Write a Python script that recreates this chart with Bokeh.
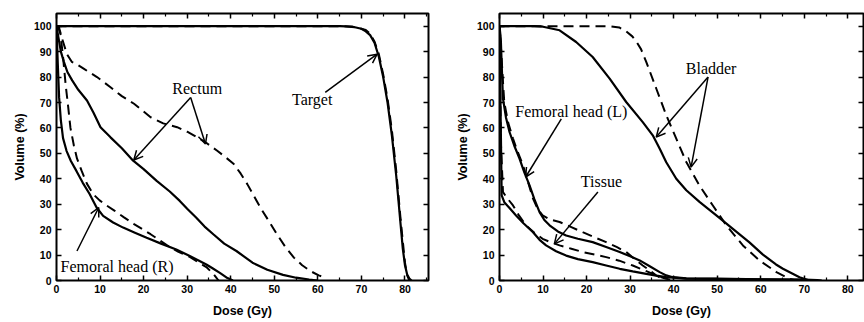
from bokeh.plotting import figure
from bokeh.layouts import row
from bokeh.models import (Range1d, FixedTicker, LinearAxis, Arrow, OpenHead,
                          ColumnDataSource, CustomJSTickFormatter)
from bokeh.core.properties import value
from bokeh.embed import file_html
from bokeh.resources import INLINE

# ---------------- data: left panel ----------------
target_solid_x = [0, 65, 68, 70, 71, 72, 73, 74, 75, 76, 77, 78, 79, 79.5, 80, 80.5, 81, 81.5]
target_solid_y = [100, 100, 99.8, 99, 98, 96.5, 93.5, 88, 80, 70, 57, 41, 22, 12.5, 6, 2.4, 0.8, 0]
target_dash_x = [0, 66, 69, 71, 72, 73, 74, 75, 76, 77, 78, 79, 80, 80.5, 81]
target_dash_y = [100, 100, 99.5, 98.5, 97, 94, 89, 81, 71.5, 59, 43, 24, 7, 2, 0]

rectum_solid_x = [0, 0.5, 1, 1.7, 2.5, 3.6, 5, 7, 8.5, 10.1, 12.4, 15, 17.6, 20, 23, 26, 28.3, 30,
                  32.1, 34, 36, 38.5, 41.3, 45, 48.4, 52, 55, 58, 60]
rectum_solid_y = [100, 95, 90, 86, 82, 78.7, 75, 70.8, 66, 60.3, 56.3, 52, 47.1, 43.8, 39.2, 35, 31.3,
                  28.2, 24.7, 21.2, 18.2, 14.5, 11.6, 7, 4.2, 2.2, 1.1, 0.4, 0]
rectum_dash_x = [0, 0.5, 1.3, 2.4, 3.5, 4.7, 6.5, 9.3, 12.4, 15, 17.8, 21.6, 24.5, 27.7, 30, 32.3,
                 34.5, 36.9, 38.8, 40.7, 42.3, 43.8, 45.3, 46.8, 48.7, 50.6, 52.5, 54.5, 56.4, 58.3,
                 60.2, 62]
rectum_dash_y = [100, 100, 95, 89, 86, 85, 83, 80, 76, 72.5, 69.5, 64.2, 61.8, 60.3, 58.5, 56.3, 54,
                 51, 48.5, 45.8, 42, 37.9, 33.3, 28.7, 23.5, 18.2, 13.3, 9, 6, 3.7, 2, 1]

femr_solid_x = [0, 0.3, 0.6, 1, 1.5, 2.3, 3.3, 4.6, 6, 7.6, 9.2, 10.7, 13, 15.3, 18, 20.7, 24, 27.5,
                30.6, 32.5, 34.4, 36, 37.5, 39, 40.5]
femr_solid_y = [100, 85, 72, 63, 56, 51, 47, 43, 38.5, 34, 28.7, 25.4, 22.8, 20.8, 18.8, 16.8, 14.5,
                12.2, 9.6, 8, 6.3, 4.6, 3, 1.2, 0]
femr_dash_x = [0, 0.5, 0.9, 1.5, 2.1, 2.7, 3.2, 4, 4.7, 5.8, 7, 8.4, 9.9, 11.5, 13.2, 15.5, 17.8,
               21.6, 25.4, 28, 30.6, 32.5, 34.4, 36, 37.2]
femr_dash_y = [100, 99, 97, 88, 77, 68, 60, 53, 48, 43, 38, 34, 31.5, 29.5, 27.6, 24.8, 22.2, 18.2,
               13.8, 11.3, 9.3, 7.2, 5.3, 2.6, 0]

left_labels = ["Rectum", "Target", "Femoral head (R)"]
left_label_x = [32.3, 58.7, 13.9]
left_label_y = [75.5, 71.2, 5.7]
left_arrow_x0 = [30.8, 30.8, 61.7, 4.7]
left_arrow_y0 = [72.0, 72.0, 74.0, 11.6]
left_arrow_x1 = [17.75, 34.2, 73.6, 9.7]
left_arrow_y1 = [47.4, 53.7, 89.0, 28.7]

# ---------------- data: right panel ----------------
bladder_solid_x = [0, 8, 10, 13.8, 17.6, 21.4, 25.3, 29.1, 32.9, 35.2, 36.8, 38.3, 40.6, 42.9, 46,
                   49.8, 53.6, 57.4, 60.5, 63.5, 65.1, 68.9, 71.2]
bladder_solid_y = [100, 100, 99.8, 98.4, 93.8, 87.9, 79.4, 70.2, 62.3, 57.1, 51.8, 46.5, 40, 35.5,
                   30.8, 25.6, 20.3, 15, 10.2, 6.3, 4.6, 1.3, 0]
bladder_dash_x = [0, 25.3, 27.5, 29.1, 30.5, 31.4, 32.5, 33.7, 36, 38.3, 40.6, 42.9, 45.9, 49,
                  52.1, 55.9, 59.7, 63.6, 66.6, 68]
bladder_dash_y = [100, 100, 99.5, 98, 96, 94, 91, 86, 75.5, 65, 55.8, 46.6, 37.4, 29.5, 21.7, 13.8,
                  7.9, 3.3, 0.7, 0]

feml_solid_x = [0, 0.3, 0.5, 0.8, 1.5, 2.3, 3.4, 4.6, 5.7, 6.9, 8, 9.2, 10.3, 11.5, 13.4, 15.3, 18,
                21.4, 24.5, 27.6, 30, 32.2, 34.5, 36.8, 38.3, 39.8, 42.9, 50, 60, 70, 72]
feml_solid_y = [100, 95, 85, 71.5, 64, 58.4, 53, 47.9, 42.5, 37.4, 32, 26.9, 23.8, 21.7, 19.3, 17.7,
                16.4, 15.1, 13.2, 11.2, 9.5, 7.9, 5.6, 3.3, 2, 1.3, 0.8, 0.7, 0.5, 0.3, 0]
feml_dash_x = [0, 0.4, 0.8, 1.1, 2, 3.1, 4.2, 5.4, 6.5, 7.7, 8.8, 9.9, 11.5, 13.8, 16.5, 19.1, 21.8,
               24.5, 27, 29.1, 31, 32.9, 34.5, 36, 37.5]
feml_dash_y = [100, 90, 78, 70, 62, 55.8, 50.5, 45.3, 39, 32.2, 28, 25.6, 24, 23, 21, 19, 17, 15.1,
               13.1, 11.2, 8.5, 5.9, 4, 2, 0.5]

tissue_solid_x = [0, 0.3, 0.5, 1.1, 2.3, 3.8, 5.5, 7.7, 9.2, 10.7, 13, 15.3, 18, 21.4, 24.5, 27.6,
                  30.6, 33.7, 36, 38.3, 40.6, 42.9, 50, 60, 70, 73, 74]
tissue_solid_y = [100, 60, 33.5, 30.8, 28.5, 25.6, 22.5, 19, 16, 13.8, 11.5, 9.8, 8.4, 7.2, 5.9, 4.6,
                  3.6, 2.6, 1.9, 1.3, 1, 0.7, 0.6, 0.5, 0.4, 0.2, 0]
tissue_dash_x = [0, 0.3, 0.8, 1.5, 3.1, 4.5, 6.1, 8, 9.9, 11.8, 13.8, 16.5, 19.1, 21.8, 24.5, 27.5,
                 30.6, 33, 35.2, 36.8, 38.3, 40]
tissue_dash_y = [100, 55, 34.8, 33, 29.5, 25.5, 21.7, 18.8, 16.4, 15, 13.8, 12.5, 11.2, 10.2, 9.2,
                 7.8, 5.9, 4.2, 2.6, 1.5, 0.7, 0]

right_labels = ["Bladder", "Femoral head (L)", "Tissue"]
right_label_x = [48.6, 16.5, 23.4]
right_label_y = [83.3, 66.3, 39.0]
right_arrow_x0 = [47.9, 47.9, 14.2, 22.6]
right_arrow_y0 = [80.0, 80.0, 63.6, 34.8]
right_arrow_x1 = [36.0, 44.0, 6.0, 12.6]
right_arrow_y1 = [56.4, 44.6, 40.7, 14.4]

x_major = [0, 10, 20, 30, 40, 50, 60, 70, 80]
x_minor = [5, 15, 25, 35, 45, 55, 65, 75, 85]
y_major = [0, 10, 20, 30, 40, 50, 60, 70, 80, 90, 100]

SANS = "Liberation Sans"
SERIF = "Liberation Serif"


def style_axis(ax, labelled):
    ax.axis_line_color = None
    ax.major_tick_in = 5
    ax.major_tick_out = 0
    ax.minor_tick_in = 3
    ax.minor_tick_out = 0
    ax.major_tick_line_width = 1.5
    ax.minor_tick_line_width = 1.2
    ax.major_tick_line_color = "black"
    ax.minor_tick_line_color = "black"
    if labelled:
        ax.major_label_text_font = SANS
        ax.major_label_text_font_style = "bold"
        ax.major_label_text_font_size = "10.5px"
        ax.major_label_text_color = "black"
        ax.axis_label_text_font = SANS
        ax.axis_label_text_font_style = "bold"
        ax.axis_label_text_font_size = "12.5px"
        ax.axis_label_text_color = "black"
    else:
        ax.formatter = CustomJSTickFormatter(code="return ''")
        ax.major_label_text_font_size = "1px"
        ax.major_label_standoff = 0


def make_panel(width, height, xmax, bl, br, solids, dashes, labels, lx, ly, ax0, ay0, ax1, ay1):
    p = figure(width=width, height=height, output_backend="svg", toolbar_location=None,
               x_range=Range1d(0, xmax), y_range=Range1d(0, 105),
               min_border_left=bl, min_border_right=br, min_border_top=13,
               min_border_bottom=height - 280)
    p.background_fill_color = "white"
    p.border_fill_color = "white"
    p.outline_line_color = "black"
    p.outline_line_width = 2
    p.grid.visible = False

    p.xaxis.axis_label = "Dose (Gy)"
    p.yaxis.axis_label = "Volume (%)"
    p.xaxis.ticker = FixedTicker(ticks=x_major, minor_ticks=x_minor)
    p.yaxis.ticker = FixedTicker(ticks=y_major)
    for ax in p.xaxis + p.yaxis:
        style_axis(ax, True)
    p.xaxis.major_label_standoff = 4
    p.xaxis.axis_label_standoff = 8
    p.yaxis.major_label_standoff = 5
    p.yaxis.axis_label_standoff = 4

    top = LinearAxis(ticker=FixedTicker(ticks=x_major, minor_ticks=x_minor))
    style_axis(top, False)
    p.add_layout(top, "above")
    right = LinearAxis(ticker=FixedTicker(ticks=y_major))
    style_axis(right, False)
    p.add_layout(right, "right")

    for xs, ys in solids:
        p.line(xs, ys, line_color="black", line_width=2.2)
    for xs, ys in dashes:
        p.line(xs, ys, line_color="black", line_width=2.0, line_dash="10 6")

    src = ColumnDataSource(dict(x0=ax0, y0=ay0, x1=ax1, y1=ay1))
    p.add_layout(Arrow(end=OpenHead(size=9, line_width=1.5, line_color="black"),
                       x_start="x0", y_start="y0", x_end="x1", y_end="y1",
                       source=src, line_width=1.5, line_color="black"))
    p.text(x=lx, y=ly, text=labels, text_font=value(SERIF), text_font_size="16px",
           text_align="center", text_baseline="middle", text_color="black")
    return p


H = 320
p1 = make_panel(448, H, 85.4, 56, 20,
                [(target_solid_x, target_solid_y), (rectum_solid_x, rectum_solid_y),
                 (femr_solid_x, femr_solid_y)],
                [(target_dash_x, target_dash_y), (rectum_dash_x, rectum_dash_y),
                 (femr_dash_x, femr_dash_y)],
                left_labels, left_label_x, left_label_y,
                left_arrow_x0, left_arrow_y0, left_arrow_x1, left_arrow_y1)

p2 = make_panel(416, H, 83.6, 51, 1,
                [(bladder_solid_x, bladder_solid_y), (feml_solid_x, feml_solid_y),
                 (tissue_solid_x, tissue_solid_y)],
                [(bladder_dash_x, bladder_dash_y), (feml_dash_x, feml_dash_y),
                 (tissue_dash_x, tissue_dash_y)],
                right_labels, right_label_x, right_label_y,
                right_arrow_x0, right_arrow_y0, right_arrow_x1, right_arrow_y1)

layout = row(p1, p2)
open("out.html", "w").write(file_html(layout, INLINE))
